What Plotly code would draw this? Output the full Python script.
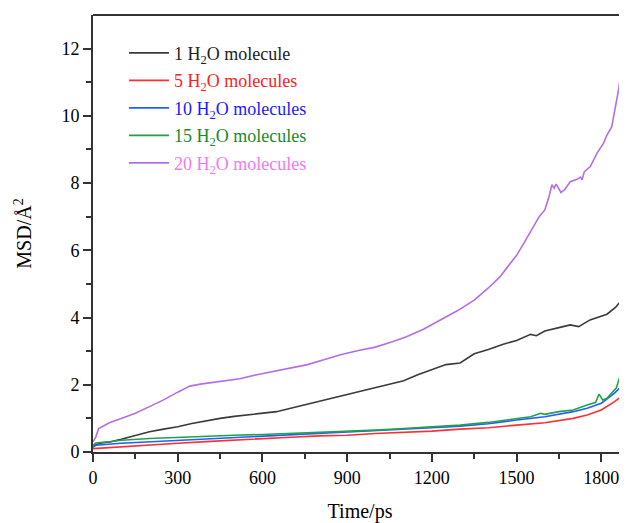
import plotly.graph_objects as go

# ---- data ----
t_1 = [0, 10, 30, 60, 100, 150, 200, 250, 300, 350, 400, 450, 500, 550, 600, 650, 700, 750, 800, 850,
       900, 950, 1000, 1050, 1100, 1150, 1200, 1250, 1300, 1350, 1400, 1450, 1500, 1550, 1570, 1600,
       1650, 1690, 1720, 1760, 1820, 1850, 1875, 1891]
msd_1 = [0.15, 0.22, 0.27, 0.3, 0.38, 0.5, 0.6, 0.68, 0.75, 0.85, 0.93, 1.0, 1.06, 1.1, 1.14, 1.2, 1.3, 1.4, 1.52, 1.62,
         1.7, 1.8, 1.92, 2.02, 2.12, 2.3, 2.45, 2.6, 2.65, 2.92, 3.05, 3.2, 3.32, 3.5, 3.46, 3.6,
         3.7, 3.78, 3.73, 3.93, 4.1, 4.3, 4.55, 4.85]

t_5 = [0, 100, 200, 300, 400, 500, 600, 700, 800, 900, 1000, 1100, 1200, 1300, 1400, 1500, 1600, 1700,
       1750, 1800, 1847, 1870, 1891]
msd_5 = [0.1, 0.16, 0.21, 0.26, 0.31, 0.36, 0.4, 0.44, 0.48, 0.5, 0.55, 0.58, 0.62, 0.68, 0.72, 0.8, 0.87, 1.0,
         1.1, 1.25, 1.5, 1.65, 1.79]

t_10 = [0, 10, 100, 200, 300, 400, 500, 600, 700, 800, 900, 1000, 1100, 1200, 1300, 1400, 1500, 1600, 1700,
        1750, 1800, 1847, 1870, 1891]
msd_10 = [0.15, 0.2, 0.26, 0.3, 0.34, 0.39, 0.44, 0.48, 0.52, 0.56, 0.58, 0.63, 0.67, 0.72, 0.77, 0.84, 0.95, 1.05, 1.2,
          1.3, 1.45, 1.75, 1.95, 2.2]

t_15 = [0, 10, 50, 100, 200, 300, 400, 500, 600, 700, 800, 900, 1000, 1100, 1200, 1300, 1400, 1500, 1550, 1585,
        1600, 1650, 1700, 1750, 1780, 1792, 1805, 1820, 1853, 1862, 1874, 1891]
msd_15 = [0.2, 0.27, 0.3, 0.35, 0.4, 0.44, 0.47, 0.5, 0.52, 0.55, 0.58, 0.6, 0.65, 0.7, 0.75, 0.8, 0.88, 1.0, 1.05, 1.15,
          1.12, 1.2, 1.25, 1.4, 1.48, 1.72, 1.55, 1.6, 1.9, 2.14, 2.4, 2.68]

t_20 = [0, 10, 20, 40, 60, 100, 150, 200, 250, 300, 343, 380, 450, 520, 580, 640, 700, 760, 820, 880, 940, 1000,
        1060, 1110, 1170, 1230, 1290, 1350, 1400, 1440, 1470, 1500, 1525, 1560, 1580, 1600, 1615, 1625, 1633, 1640,
        1657, 1670, 1690, 1714, 1726, 1732, 1740, 1761, 1785, 1808, 1820, 1837, 1849, 1861, 1873, 1884, 1891]
msd_20 = [0.3, 0.45, 0.7, 0.8, 0.88, 1.0, 1.15, 1.35, 1.55, 1.78, 1.96, 2.02, 2.09, 2.18, 2.3, 2.4, 2.48, 2.6, 2.75, 2.9,
          3.02, 3.12, 3.28, 3.43, 3.65, 3.93, 4.2, 4.52, 4.88, 5.2, 5.52, 5.85, 6.2, 6.7, 7.0, 7.2, 7.6, 7.95, 7.85, 7.97,
          7.72, 7.8, 8.04, 8.11, 8.18, 8.1, 8.34, 8.49, 8.89, 9.19, 9.43, 9.68, 10.18, 10.77, 11.47, 11.82, 11.9]

series_names = ["1 H<sub>2</sub>O molecule", "5 H<sub>2</sub>O molecules", "10 H<sub>2</sub>O molecules",
                "15 H<sub>2</sub>O molecules", "20 H<sub>2</sub>O molecules"]
line_colors = ["#3a3a3a", "#ff3030", "#1f5fff", "#22a04a", "#b26ee6"]
text_colors = ["#222222", "#ff2020", "#1a1aff", "#1a8a2a", "#f07af0"]

xs = [t_1, t_5, t_10, t_15, t_20]
ys = [msd_1, msd_5, msd_10, msd_15, msd_20]

FONT = "Liberation Serif"

fig = go.Figure()
for i in range(5):
    fig.add_trace(go.Scatter(
        x=xs[i], y=ys[i], mode="lines",
        line=dict(color=line_colors[i], width=1.6),
        name='<span style="color:%s;font-family:Liberation Serif">%s</span>' % (text_colors[i], series_names[i]),
        legendgroup="g%d" % i,
    ))

# the page body has an 8px margin, so the figure is sized/offset to line up with the window
fig.update_layout(
    width=619, height=515,
    margin=dict(l=85, r=0, t=7, b=71),
    paper_bgcolor="white", plot_bgcolor="white",
    font=dict(family=FONT, size=18, color="black"),
    showlegend=True,
    legend=dict(
        x=0.058, y=0.955, xanchor="left", yanchor="top",
        bgcolor="rgba(0,0,0,0)", borderwidth=0,
        font=dict(family=FONT, size=18),
        tracegroupgap=1.1,
        itemwidth=40,
    ),
    xaxis=dict(
        range=[0, 1891],
        tickvals=[0, 300, 600, 900, 1200, 1500, 1800],
        ticks="outside", ticklen=8, tickwidth=2, tickcolor="#333",
        minor=dict(tickvals=[150, 450, 750, 1050, 1350, 1650], ticks="outside", ticklen=5, tickwidth=2, tickcolor="#333"),
        showline=True, linewidth=2, linecolor="#333",
        showgrid=False, zeroline=False,
        tickfont=dict(family=FONT, size=18),
        title=dict(text="Time/ps", font=dict(family=FONT, size=20), standoff=22),
    ),
    yaxis=dict(
        range=[0, 13],
        tickvals=[0, 2, 4, 6, 8, 10, 12],
        ticks="outside", ticklen=8, tickwidth=2, tickcolor="#333",
        minor=dict(tickvals=[1, 3, 5, 7, 9, 11], ticks="outside", ticklen=5, tickwidth=2, tickcolor="#333"),
        showline=True, linewidth=2, linecolor="#333",
        showgrid=False, zeroline=False,
        tickfont=dict(family=FONT, size=18),
        title=dict(text="MSD/Å<sup>2</sup>", font=dict(family=FONT, size=20), standoff=24),
    ),
    shapes=[dict(type="line", xref="paper", yref="paper", x0=0, x1=1, y0=1, y1=1,
                 line=dict(color="#333", width=2))],
)

fig.write_html("out.html")
